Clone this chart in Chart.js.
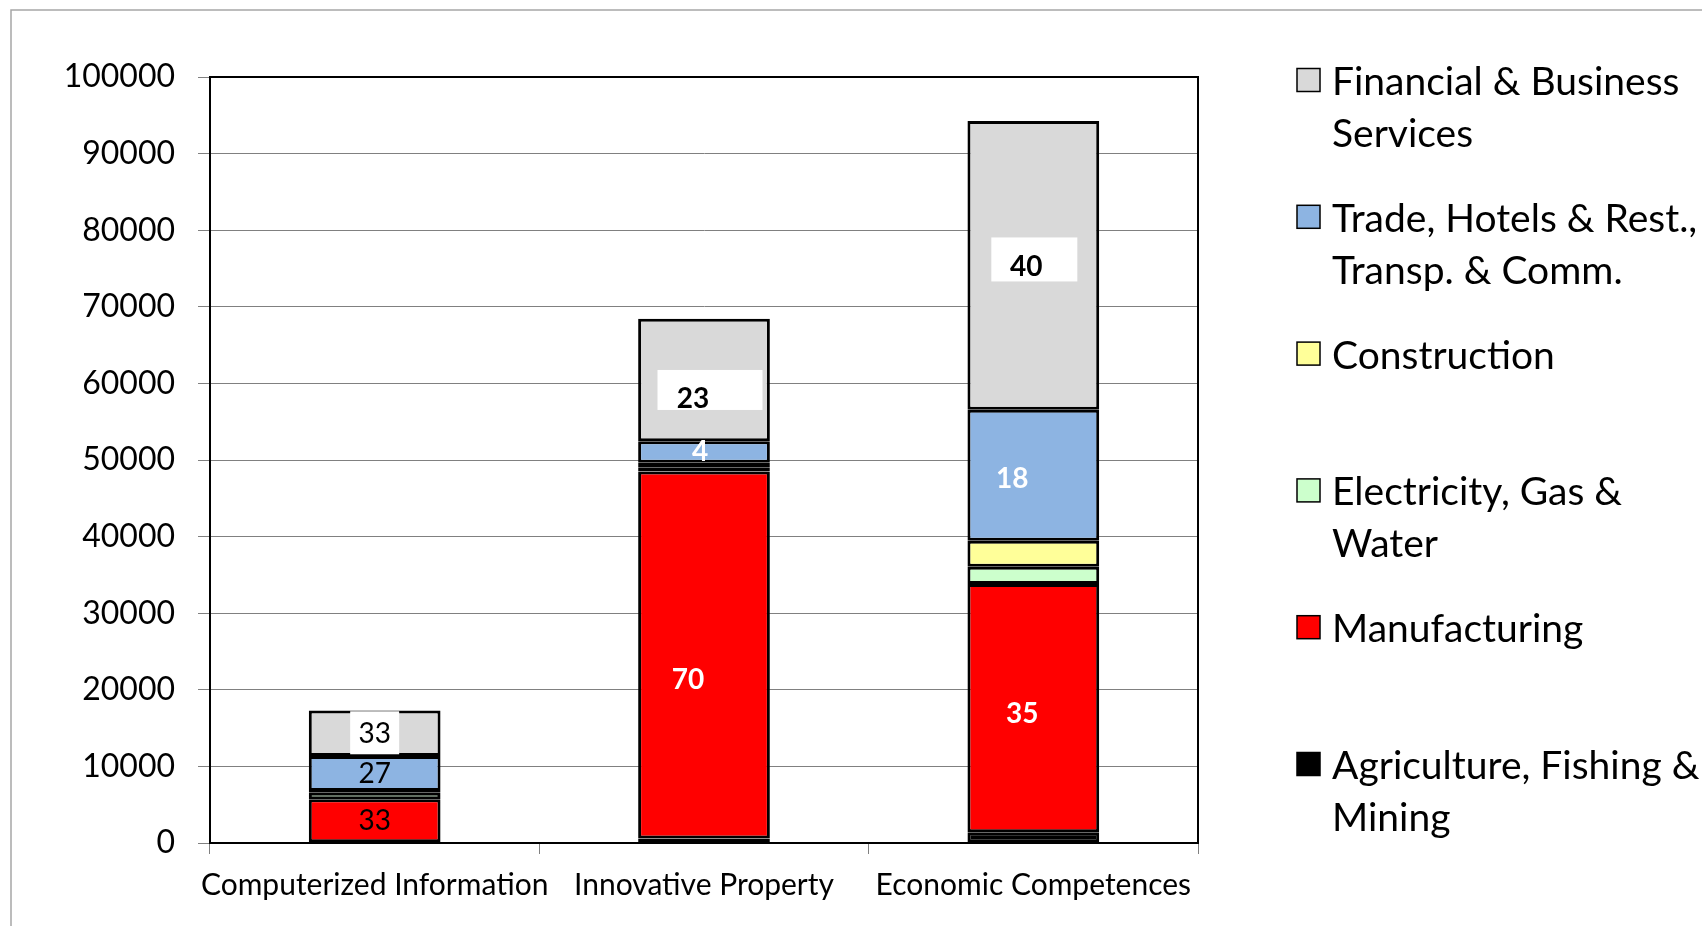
<!doctype html>
<html>
  <head>
    <script src="https://cdnjs.cloudflare.com/ajax/libs/Chart.js/4.4.1/chart.umd.js"></script>
    <style>
      body { margin: 0; background: #fff; overflow: hidden; }
    </style>
  </head>
  <body>
    <canvas id="c1" width="1702" height="926"></canvas>
    <script>
      // categories and series (bottom of stack first)
      let categories = ['Computerized Information', 'Innovative Property', 'Economic Competences'];
      let agriculture = [100, 600, 1400];
      let manufacturing = [5600, 47900, 32400];
      let electricity = [850, 550, 2250];
      let construction = [250, 600, 3400];
      let trade = [4550, 2800, 17100];
      let financial = [5950, 16000, 37700];

      // share labels printed on the bars
      let manufacturingLabels = ['33', '70', '35'];
      let tradeLabels = ['27', '4', '18'];
      let financialLabels = ['33', '23', '40'];

      // legend names, one entry per line
      let agricultureName = ['Agriculture, Fishing &', 'Mining'];
      let manufacturingName = ['Manufacturing'];
      let electricityName = ['Electricity, Gas &', 'Water'];
      let constructionName = ['Construction'];
      let tradeName = ['Trade, Hotels & Rest.,', 'Transp. & Comm.'];
      let financialName = ['Financial & Business', 'Services'];

      let yTicks = [0, 100000, 10000]; // min, max, step

      const FONT = 'Lato';

      function ds(name, values, color, labels) {
        return {
          label: name.join(' '),
          lines: name,
          data: values,
          barLabels: labels || null,
          backgroundColor: color,
          borderColor: '#000000',
          borderWidth: 3,
          borderSkipped: false
        };
      }

      // hand placed labels, like in the original sheet
      let labelLook = {
        'Manufacturing': [
          { dx: 0, dy: 0, bold: false, color: '#000' },
          { dx: -16, dy: 25, bold: true, color: '#fff' },
          { dx: -11, dy: 6, bold: true, color: '#fff' }
        ],
        'Trade, Hotels & Rest., Transp. & Comm.': [
          { dx: 0, dy: 0, bold: false, color: '#000' },
          { dx: -4, dy: 0, bold: true, color: '#fff' },
          { dx: -21, dy: 4, bold: true, color: '#fff' }
        ],
        'Financial & Business Services': [
          { dx: 0, dy: 1, bold: false, color: '#000', box: [0, -0.5, 49, 43] },
          { dx: -11, dy: 19, bold: true, color: '#000', box: [6, 10, 105, 40] },
          { dx: -7, dy: 2, bold: true, color: '#000', box: [1, -6, 86, 44] }
        ]
      };

      const decor = {
        id: 'decor',
        beforeDraw(chart) {
          const ctx = chart.ctx;
          ctx.save();
          ctx.strokeStyle = '#a6a6a6';
          ctx.lineWidth = 1.5;
          ctx.beginPath();
          ctx.moveTo(11, 1000);
          ctx.lineTo(11, 10);
          ctx.lineTo(1800, 10);
          ctx.stroke();
          ctx.restore();
        },
        afterDatasetsDraw(chart) {
          const ctx = chart.ctx;
          const a = chart.chartArea;
          ctx.save();
          ctx.strokeStyle = '#000';
          ctx.lineWidth = 2;
          ctx.strokeRect(a.left, a.top, a.right - a.left, a.bottom - a.top);

          // bar labels
          chart.data.datasets.forEach((d, di) => {
            if (!d.barLabels) return;
            const meta = chart.getDatasetMeta(di);
            meta.data.forEach((bar, i) => {
              const look = labelLook[d.label][i];
              const c = bar.getCenterPoint();
              if (look.box) {
                ctx.fillStyle = '#fff';
                const b = look.box;
                ctx.fillRect(c.x + b[0] - b[2] / 2, c.y + b[1] - b[3] / 2, b[2], b[3]);
              }
              ctx.font = (look.bold ? 'bold ' : '') + '28px ' + FONT;
              ctx.fillStyle = look.color;
              ctx.textAlign = 'center';
              ctx.textBaseline = 'middle';
              ctx.fillText(d.barLabels[i], c.x + look.dx, c.y + look.dy);
            });
          });

          // legend, top entry is the top of the stack
          const sets = chart.data.datasets.slice().reverse();
          ctx.font = '39px ' + FONT;
          ctx.textAlign = 'left';
          ctx.textBaseline = 'middle';
          sets.forEach((d, k) => {
            const y = 80.5 + k * 136.8;
            ctx.fillStyle = d.backgroundColor;
            ctx.fillRect(1297, y - 12, 23, 23);
            ctx.strokeStyle = '#000';
            ctx.lineWidth = 1.5;
            ctx.strokeRect(1297, y - 12, 23, 23);
            ctx.fillStyle = '#000';
            d.lines.forEach((t, j) => ctx.fillText(t, 1332, y + 2 + j * 52));
          });
          ctx.restore();
        }
      };

      let chart1 = new Chart(document.getElementById('c1'), {
        type: 'bar',
        data: {
          labels: categories,
          datasets: [
            ds(agricultureName, agriculture, '#000000'),
            ds(manufacturingName, manufacturing, '#ff0000', manufacturingLabels),
            ds(electricityName, electricity, '#ccffcc'),
            ds(constructionName, construction, '#ffff99'),
            ds(tradeName, trade, '#8db4e2', tradeLabels),
            ds(financialName, financial, '#d9d9d9', financialLabels)
          ]
        },
        options: {
          responsive: false,
          animation: false,
          layout: { padding: { left: 0, top: 77, right: 504, bottom: 0 } },
          categoryPercentage: 1,
          barPercentage: 0.4,
          plugins: { legend: { display: false }, tooltip: { enabled: false } },
          scales: {
            x: {
              stacked: true,
              afterFit: (s) => { s.height = 83; },
              grid: { drawOnChartArea: false, tickLength: 11, color: '#808080', offset: true },
              border: { color: '#000', width: 2 },
              ticks: { color: '#000', font: { family: FONT, size: 30 }, padding: 13, maxRotation: 0, autoSkip: false }
            },
            y: {
              stacked: true,
              min: yTicks[0],
              max: yTicks[1],
              afterFit: (s) => { s.width = 210; },
              grid: { color: '#808080', lineWidth: 1, tickLength: 12 },
              border: { color: '#000', width: 2 },
              ticks: {
                stepSize: yTicks[2], color: '#000', font: { family: FONT, size: 32 }, padding: 23,
                callback: (v) => String(v)
              }
            }
          }
        },
        plugins: [decor]
      });
    </script>
  </body>
</html>
